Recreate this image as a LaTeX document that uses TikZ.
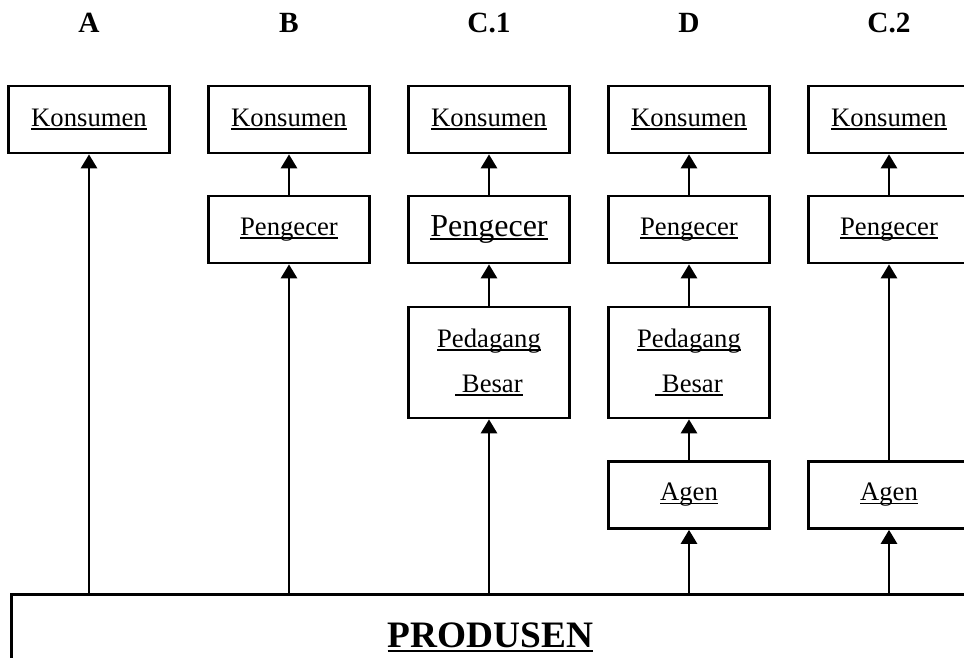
\documentclass[tikz,border=0pt]{standalone}
\usepackage{fontspec}
\setmainfont{Liberation Serif}
\usetikzlibrary{arrows.meta}
\newcommand{\ulin}[1]{\setbox0\hbox{#1}\rlap{\rule[-0.12em]{\wd0}{0.06em}}\box0}

\begin{document}
\begin{tikzpicture}[x=0.75pt, y=-0.75pt, line width=2pt,
  box/.style={draw, minimum width=120.75pt, minimum height=50.25pt, inner sep=0pt,
    font=\fontsize{20}{24}\selectfont},
  head/.style={anchor=base, font=\fontsize{22}{26}\selectfont\bfseries},
  arr/.style={-{Triangle[width=12pt,length=10.5pt]}}]
  \clip (0,0) rectangle (964,657);
  \node[head] (hA) at (89,32) {A};
  \node[head] (hB) at (289,32) {B};
  \node[head] (hC1) at (489,32) {C.1};
  \node[head] (hD) at (689,32) {D};
  \node[head] (hC2) at (889,32) {C.2};
  \node[box] (kA) at (89,119.5) {\ulin{Konsumen}};
  \node[box] (kB) at (289,119.5) {\ulin{Konsumen}};
  \node[box] (kC1) at (489,119.5) {\ulin{Konsumen}};
  \node[box] (kD) at (689,119.5) {\ulin{Konsumen}};
  \node[box] (kC2) at (889,119.5) {\ulin{Konsumen}};
  \node[box] (pB) at (289,229.5) {\ulin{Pengecer}};
  \node[box, font=\fontsize{24}{28}\selectfont] (pC1) at (489,229.5) {\ulin{Pengecer}};
  \node[box] (pD) at (689,229.5) {\ulin{Pengecer}};
  \node[box] (pC2) at (889,229.5) {\ulin{Pengecer}};
  \node[box, minimum height=83.25pt, align=center] (bC1) at (489,362.5)
    {\ulin{Pedagang}\\[9.75pt]\ulin{~Besar}};
  \node[box, minimum height=83.25pt, align=center] (bD) at (689,362.5)
    {\ulin{Pedagang}\\[9.75pt]\ulin{~Besar}};
  \node[box] (aD) at (689,495) {\ulin{Agen}};
  \node[box] (aC2) at (889,495) {\ulin{Agen}};
  \node[draw, anchor=north west, minimum width=718.5pt, minimum height=64.5pt, inner sep=0pt,
    font=\fontsize{28}{32}\selectfont\bfseries] (prod) at (10,593) {\ulin{PRODUSEN}};
  \draw[arr] (kA.south |- prod.north) -- (kA.south);
  \draw[arr] (pB.north) -- (kB.south);
  \draw[arr] (pB.south |- prod.north) -- (pB.south);
  \draw[arr] (pC1.north) -- (kC1.south);
  \draw[arr] (bC1.north) -- (pC1.south);
  \draw[arr] (bC1.south |- prod.north) -- (bC1.south);
  \draw[arr] (pD.north) -- (kD.south);
  \draw[arr] (bD.north) -- (pD.south);
  \draw[arr] (aD.north) -- (bD.south);
  \draw[arr] (aD.south |- prod.north) -- (aD.south);
  \draw[arr] (pC2.north) -- (kC2.south);
  \draw[arr] (aC2.north) -- (pC2.south);
  \draw[arr] (aC2.south |- prod.north) -- (aC2.south);
\end{tikzpicture}
\end{document}
